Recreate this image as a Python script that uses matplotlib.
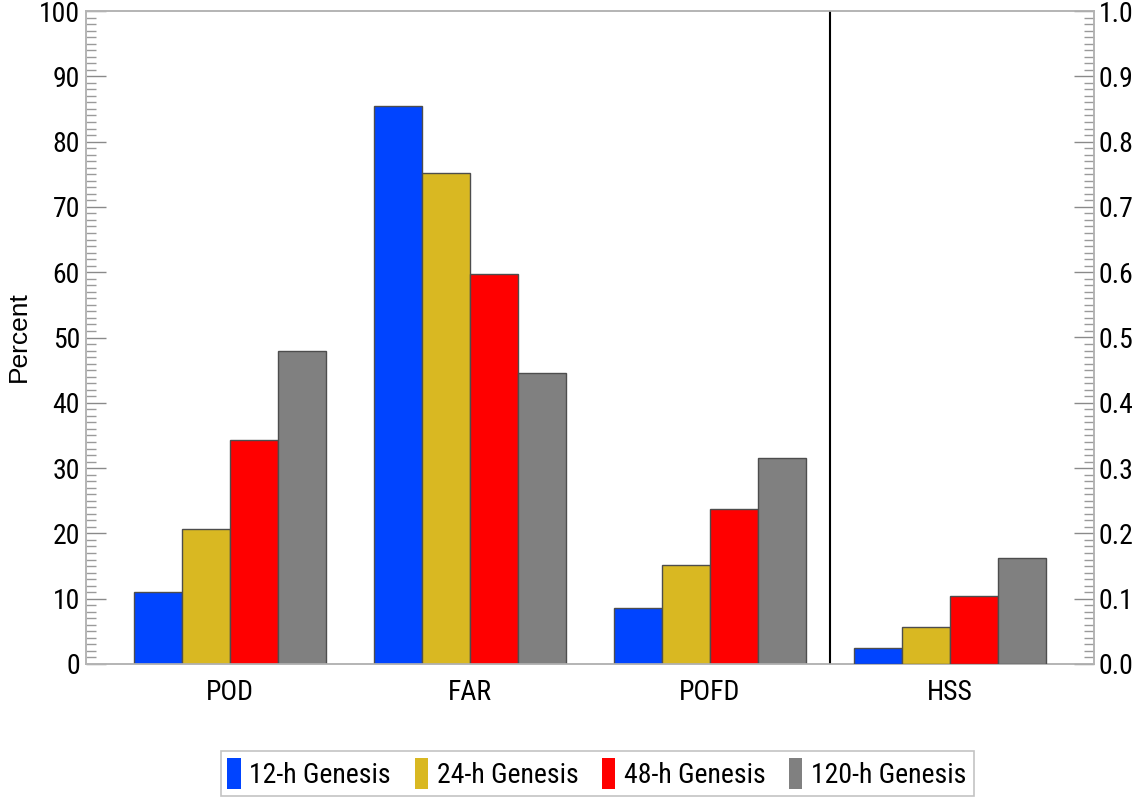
import matplotlib
matplotlib.use("Agg")
import matplotlib.pyplot as plt
from matplotlib import font_manager as fm
from matplotlib.font_manager import FontProperties
from matplotlib.patches import Rectangle
from matplotlib.ticker import MultipleLocator, FormatStrFormatter
import numpy as np

# Verification scores by genesis lead time
categories = ["POD", "FAR", "POFD", "HSS"]
series_names = ["12-h Genesis", "24-h Genesis", "48-h Genesis", "120-h Genesis"]
series_colors = ["#0044ff", "#d9b822", "#ff0000", "#808080"]

# Percent scores (left axis) for POD, FAR, POFD
pod = [11.0, 20.7, 34.3, 47.9]
far = [85.5, 75.2, 59.8, 44.6]
pofd = [8.6, 15.1, 23.8, 31.6]
# Heidke skill score (right axis)
hss = [0.024, 0.056, 0.104, 0.163]

percent_scores = np.array([pod, far, pofd])  # rows: category, cols: series


def find_condensed_font():
    """Return the path of a narrow sans-serif regular face, if one is installed."""
    prefs = ["Liberation Sans Narrow", "Roboto Condensed", "Open Sans Condensed",
             "Noto Sans Condensed", "DejaVu Sans Condensed", "Arial Narrow"]
    entries = fm.fontManager.ttflist
    for want in prefs:
        for f in entries:
            if f.name == want and f.style == "normal" and f.weight in (400, "normal", "regular"):
                return f.fname
    # faces whose family is a plain name but whose stretch is condensed
    for fam in ["Liberation Sans", "Roboto", "Noto Sans", "Open Sans", "DejaVu Sans"]:
        for f in entries:
            st = f.stretch
            condensed = (isinstance(st, str) and "condensed" in st) or \
                        (isinstance(st, (int, float)) and st < 500)
            if f.name == fam and condensed and f.style == "normal" and \
                    f.weight in (400, "normal", "regular"):
                return f.fname
    return None


cpath = find_condensed_font()
if cpath is not None:
    label_font = FontProperties(fname=cpath, size=20)
else:
    label_font = FontProperties(family=["Liberation Sans", "DejaVu Sans"], size=17)

fig = plt.figure(figsize=(11.35, 7.97), dpi=100)
ax = fig.add_axes([86 / 1135, 1 - 664 / 797, (1094 - 86) / 1135, (664 - 11) / 797])
ax2 = ax.twinx()

width = 0.2
offsets = (np.arange(4) - 1.5) * width
edge = "#4d4d4d"

for j in range(4):
    xs = np.arange(1, 4) + offsets[j]
    ax.bar(xs, percent_scores[:, j], width=width, color=series_colors[j],
           edgecolor=edge, linewidth=1.0, zorder=3)
    ax2.bar(4 + offsets[j], hss[j], width=width, color=series_colors[j],
            edgecolor=edge, linewidth=1.0, zorder=3)

ax.axvline(3.5, color="black", lw=1.5, zorder=4)

ax.set_xlim(0.4, 4.6)
ax.set_ylim(0, 100)
ax2.set_ylim(0, 1.0)

ax.set_xticks(np.arange(1, 5))
ax.set_xticklabels(categories)
ax.tick_params(axis="x", length=0, pad=11)

ax.yaxis.set_major_locator(MultipleLocator(10))
ax.yaxis.set_minor_locator(MultipleLocator(1))
ax.tick_params(axis="y", which="major", direction="in", length=14.4, width=1.0,
               color="#8a8a8a", pad=4.3)
ax.tick_params(axis="y", which="minor", direction="in", length=7.2, width=1.0,
               color="#9a9a9a")

ax2.yaxis.set_major_locator(MultipleLocator(0.1))
ax2.yaxis.set_minor_locator(MultipleLocator(0.01))
ax2.yaxis.set_major_formatter(FormatStrFormatter("%.1f"))
ax2.tick_params(axis="y", which="major", direction="in", length=14.4, width=1.0,
                color="#8a8a8a", pad=3.6)
ax2.tick_params(axis="y", which="minor", direction="in", length=7.2, width=1.0,
                color="#9a9a9a")

for lbl in ax.get_xticklabels() + ax.get_yticklabels() + ax2.get_yticklabels():
    lbl.set_fontproperties(label_font)

for a in (ax, ax2):
    for s in a.spines.values():
        s.set_color("#b4b4b4")
        s.set_linewidth(1.2)

fig.text(19 / 1135, 1 - 337 / 797, "Percent", rotation=90, fontsize=19,
         family=["Liberation Sans", "DejaVu Sans"], ha="center", va="center")

handles = [Rectangle((0, 0), 1, 1, facecolor=c, edgecolor="none") for c in series_colors]
leg = fig.legend(handles, series_names, loc="center",
                 bbox_to_anchor=(597 / 1135, 1 - 773.5 / 797), ncol=4,
                 prop=label_font, handlelength=0.47, handleheight=1.3,
                 handletextpad=0.32, columnspacing=0.85, borderpad=0.25,
                 borderaxespad=0, fancybox=False, frameon=True)
leg.get_frame().set_edgecolor("#b4b4b4")
leg.get_frame().set_linewidth(1.2)

fig.savefig("out.png", dpi=100)
